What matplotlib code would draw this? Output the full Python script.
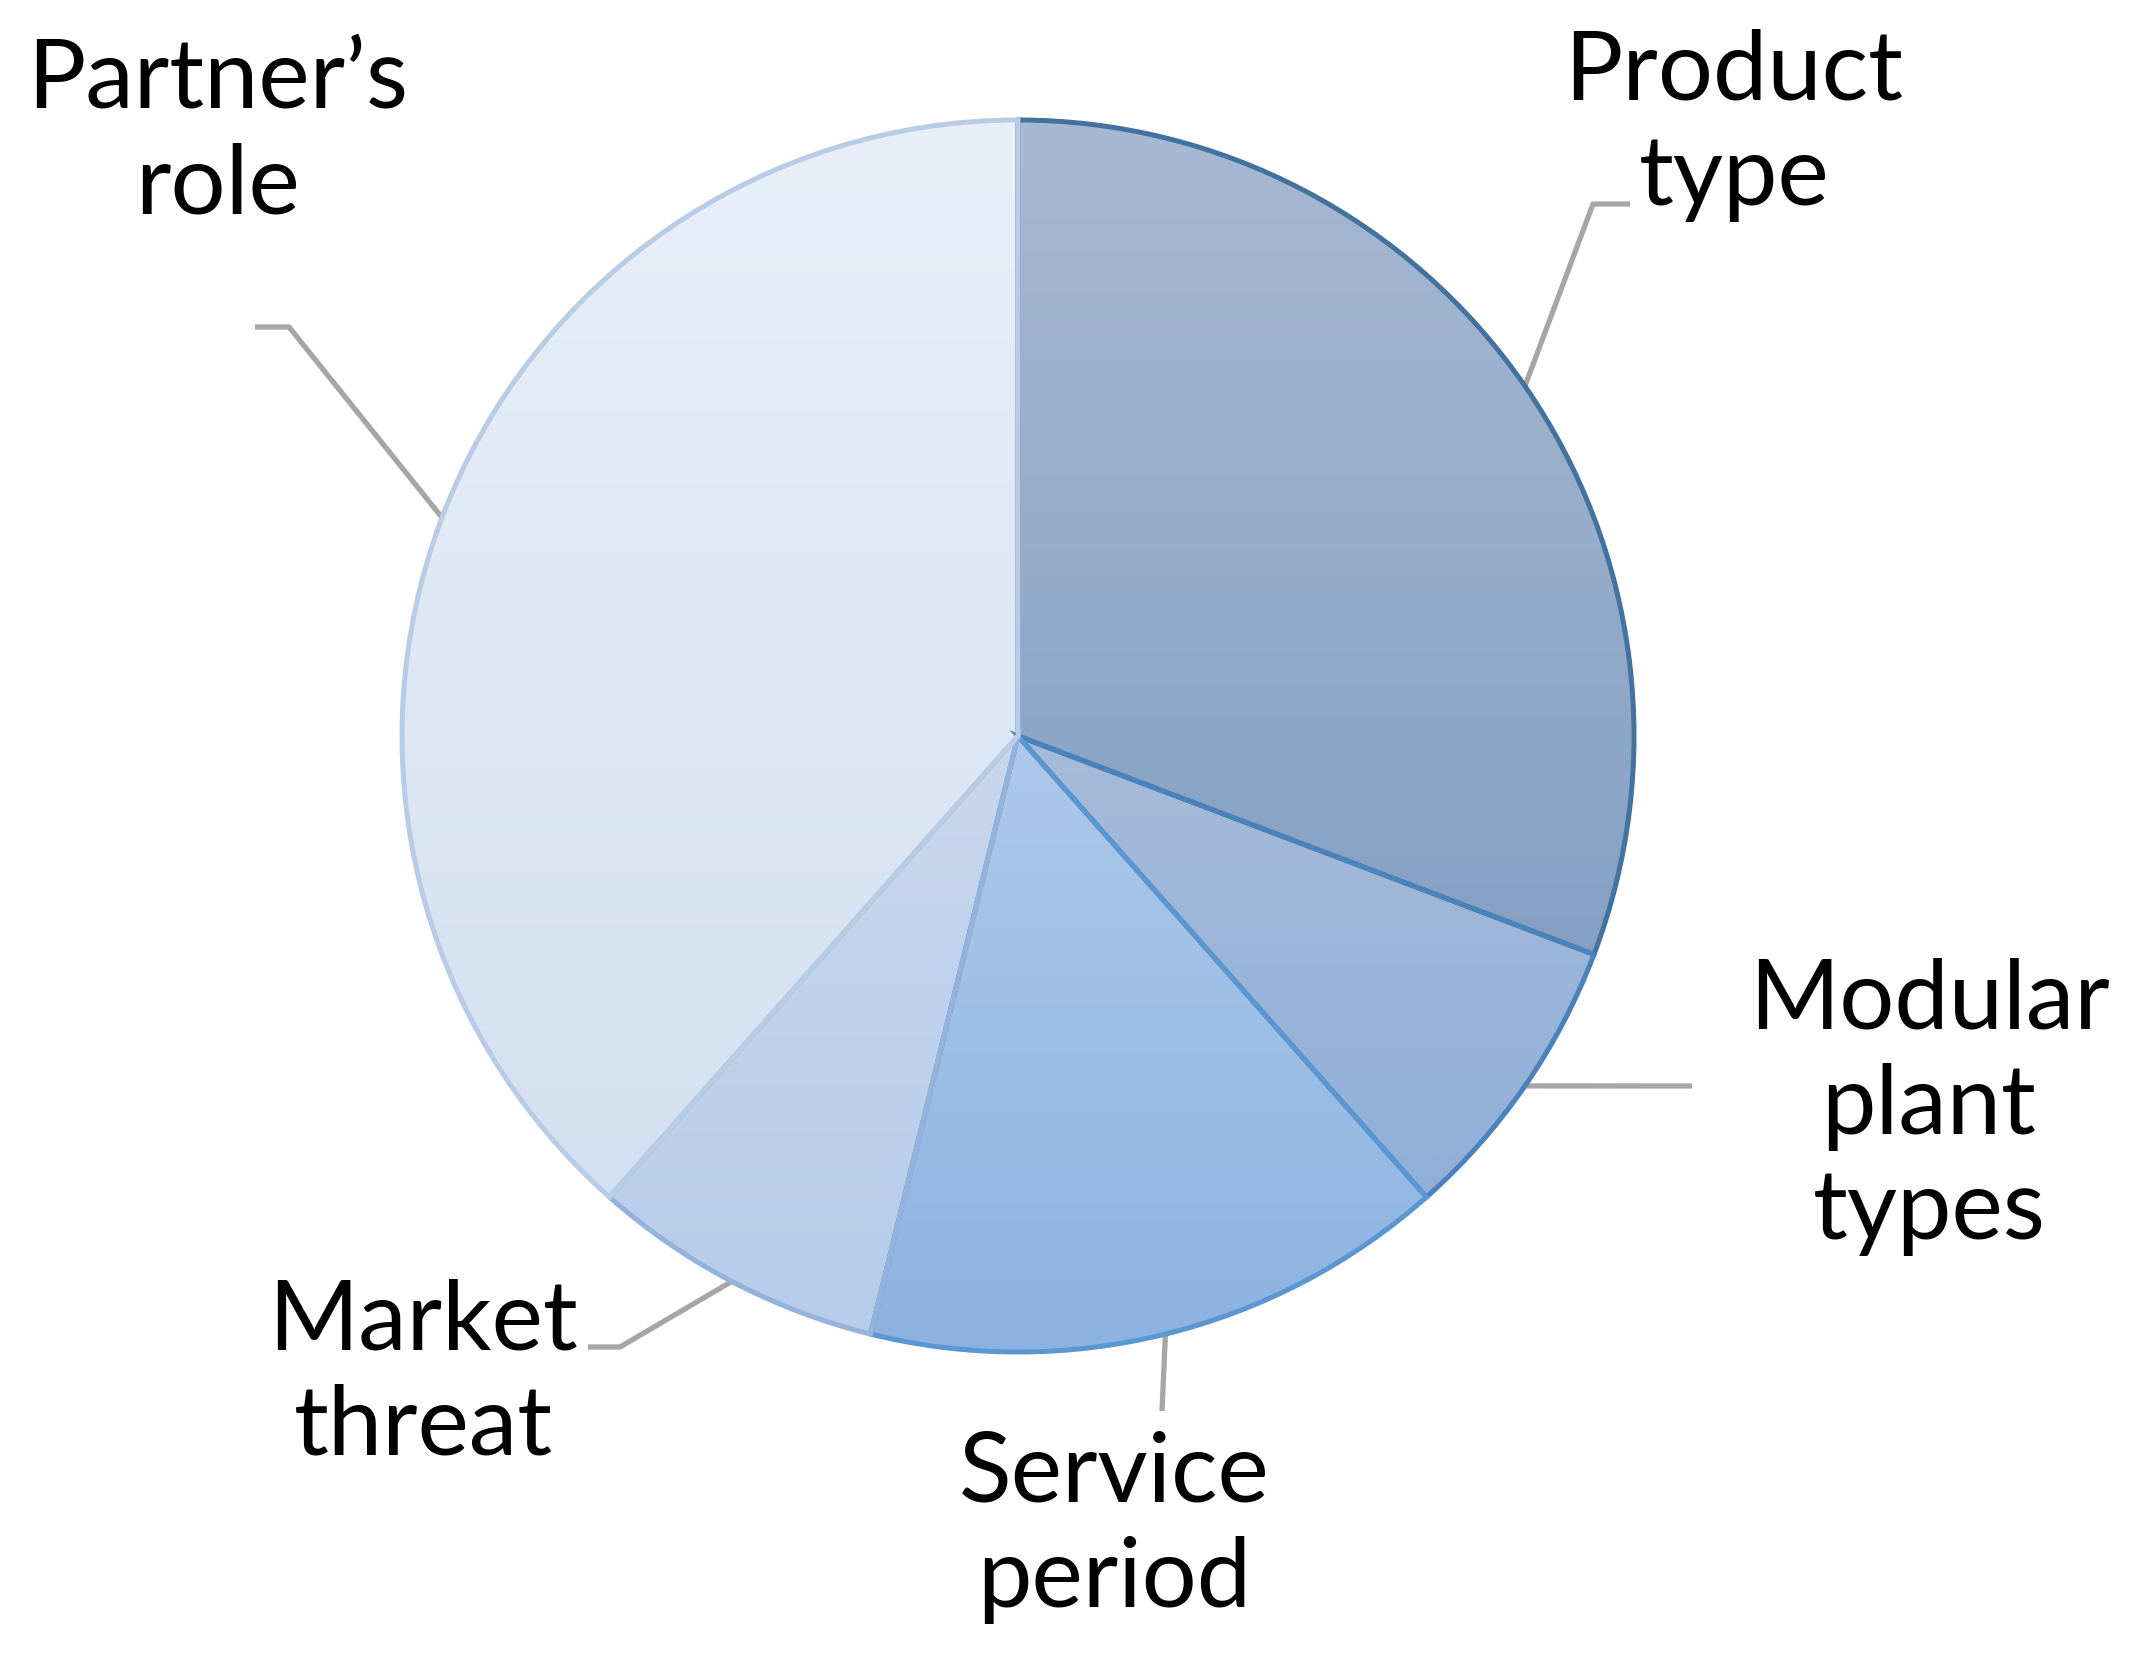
import numpy as np
import matplotlib.pyplot as plt
from matplotlib.colors import LinearSegmentedColormap

W, H = 2135, 1656

labels = ["Product\ntype", "Modular\nplant\ntypes", "Service\nperiod", "Market\nthreat", "Partner\u2019s\nrole"]
values = [4, 1, 2, 1, 5]
top_colors = ["#a7b9d2", "#a6bbd8", "#adc9ea", "#c8d8ee", "#e8eff9"]
bottom_colors = ["#84a0c3", "#90afd8", "#8cb2e2", "#b6cce9", "#d4e0f1"]
edge_colors = ["#44729f", "#4a82bb", "#5a96d2", "#94b3dc", "#b9cce5"]

# label anchor (x center, last-line baseline) and leader elbow/end, in pixels from top-left
label_pos = [(1734, 205), (1929, 1239), (1114, 1607), (423, 1455), (218, 213)]
leader_pts = [[(1593, 205), (1630, 205)],
              [(1692, 1087)],
              [(1162, 1412)],
              [(620, 1348), (588, 1348)],
              [(289, 328), (255, 328)]]

center = (1018, H - 737)
radius = 616

plt.rcParams['font.family'] = ['Lato', 'DejaVu Sans']
fig = plt.figure(figsize=(W / 100, H / 100), dpi=100)
ax = fig.add_axes([0, 0, 1, 1])

wedges, _ = ax.pie(values, startangle=90, counterclock=False, center=center,
                   radius=radius, frame=True)

for i, w in enumerate(wedges):
    w.set_facecolor('none')
    w.set_edgecolor(edge_colors[i])
    w.set_linewidth(3.6)
    w.set_zorder(3 + i * 0.01)
    ext = w.get_path().get_extents()
    cmap = LinearSegmentedColormap.from_list('g%d' % i, [bottom_colors[i], top_colors[i]])
    grad = np.linspace(0, 1, 256).reshape(-1, 1)
    im = ax.imshow(grad, extent=[ext.x0, ext.x1, ext.y0, ext.y1], origin='lower',
                   cmap=cmap, aspect='auto', zorder=2, interpolation='bilinear')
    im.set_clip_path(w)

    # leader line from the wedge's outer mid point
    mid = np.deg2rad((w.theta1 + w.theta2) / 2)
    ex = center[0] + radius * np.cos(mid)
    ey = center[1] + radius * np.sin(mid)
    xs = [ex] + [p[0] for p in leader_pts[i]]
    ys = [ey] + [H - p[1] for p in leader_pts[i]]
    ax.plot(xs, ys, color='#a6a6a6', lw=3.8, zorder=1, solid_capstyle='butt')

    lx, ly = label_pos[i]
    ax.text(lx, H - ly, labels[i], ha='center', va='baseline', multialignment='center',
            fontsize=70, linespacing=1.24, color='black')

ax.set_xlim(0, W)
ax.set_ylim(0, H)
ax.axis('off')

fig.savefig('out.png', dpi=100, facecolor='white')
